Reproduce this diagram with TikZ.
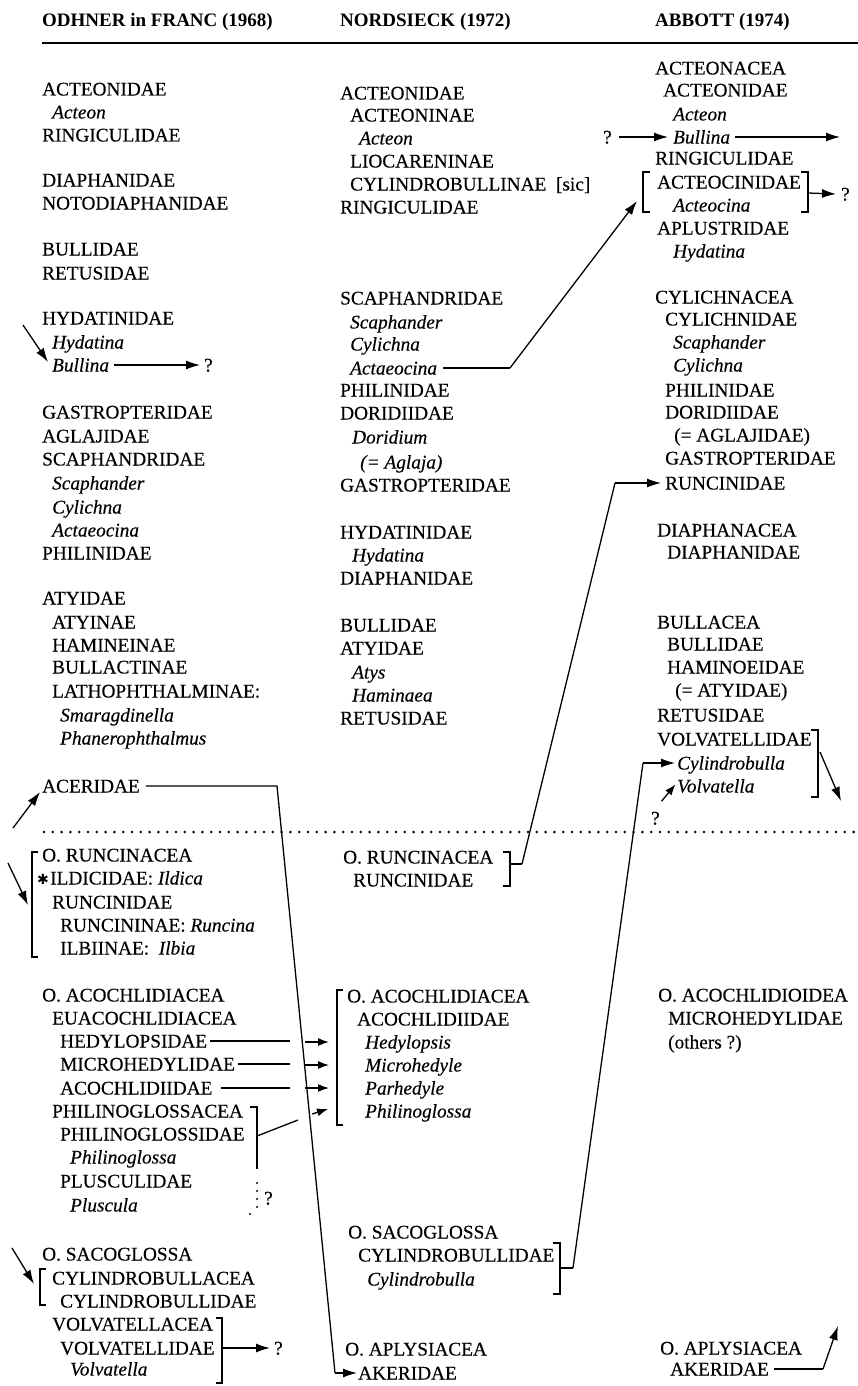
\documentclass[tikz,border=0pt]{standalone}
\usepackage{fontspec}
\setmainfont{Liberation Serif}[UprightFeatures={FakeBold=0.3},ItalicFeatures={FakeBold=0.3}]
\newfontfamily\symfont{DejaVu Sans}
\usetikzlibrary{arrows.meta}
\begin{document}
\begin{tikzpicture}[x=1pt,y=-1pt,
  every node/.style={inner sep=0pt, anchor=west, text height=13pt, text depth=0pt,
    font=\fontsize{19.3}{23}\selectfont},
  gen/.style={font=\fontsize{19.3}{23}\selectfont\itshape},
  head/.style={font=\fontsize{19}{22}\selectfont\bfseries},
  ln/.style={line width=1.3pt},
  brk/.style={line width=1.2pt},
  arr/.style={line width=1.3pt, -{Latex[length=14pt,width=9pt]}},
  sarr/.style={line width=1.3pt, -{Latex[length=11pt,width=8pt]}},
  dots/.style={line width=2.8pt, line cap=round, dash pattern=on 0pt off 8.8pt},
]
\useasboundingbox (0,0) rectangle (858,1386);

% ---------- headings and rules ----------
\node[head] (hL) at (42,20) {ODHNER in FRANC (1968)};
\node[head] (hM) at (340,20) {NORDSIECK (1972)};
\node[head] (hR) at (655,20) {ABBOTT (1974)};
\coordinate (ruleA) at (42,43);
\coordinate (ruleB) at (858,43);
\draw[line width=2.2pt] (ruleA) -- (ruleB);
\coordinate (dotA) at (44,832);
\coordinate (dotB) at (858,832);
\draw[dots] (dotA) -- (dotB);

% ---------- left column: Odhner ----------
\node (L1) at (42,89) {ACTEONIDAE};
\node[gen] (L2) at (52,112) {Acteon};
\node (L3) at (42,135) {RINGICULIDAE};
\node (L4) at (42,180) {DIAPHANIDAE};
\node (L5) at (42,203) {NOTODIAPHANIDAE};
\node (L6) at (42,249) {BULLIDAE};
\node (L7) at (42,273) {RETUSIDAE};
\node (L8) at (42,318) {HYDATINIDAE};
\node[gen] (L9) at (52,342) {Hydatina};
\node[gen] (L10) at (52,365) {Bullina};
\node (q1) at (204,365) {?};
\node (L11) at (42,412) {GASTROPTERIDAE};
\node (L12) at (42,436) {AGLAJIDAE};
\node (L13) at (42,459) {SCAPHANDRIDAE};
\node[gen] (L14) at (52,483) {Scaphander};
\node[gen] (L15) at (52,507) {Cylichna};
\node[gen] (L16) at (52,530) {Actaeocina};
\node (L17) at (42,553) {PHILINIDAE};
\node (L18) at (42,598) {ATYIDAE};
\node (L19) at (52,622) {ATYINAE};
\node (L20) at (52,645) {HAMINEINAE};
\node (L21) at (52,667) {BULLACTINAE};
\node (L22) at (52,691) {LATHOPHTHALMINAE:};
\node[gen] (L23) at (60,715) {Smaragdinella};
\node[gen] (L24) at (60,738) {Phanerophthalmus};
\node (L25) at (42,786) {ACERIDAE};
\node (L26) at (42,855) {O. RUNCINACEA};
\node[font=\symfont\fontsize{14}{15}\selectfont] (star) at (37,878) {✱};
\node (L27) at (50,878) {ILDICIDAE: \textit{Ildica}};
\node (L28) at (52,902) {RUNCINIDAE};
\node (L29) at (60,925) {RUNCININAE: \textit{Runcina}};
\node (L30) at (60,948) {ILBIINAE:\ \ \textit{Ilbia}};
\node (L31) at (42,995) {O. ACOCHLIDIACEA};
\node (L32) at (52,1018) {EUACOCHLIDIACEA};
\node (L33) at (60,1041) {HEDYLOPSIDAE};
\node (L34) at (60,1064) {MICROHEDYLIDAE};
\node (L35) at (60,1088) {ACOCHLIDIIDAE};
\node (L36) at (52,1111) {PHILINOGLOSSACEA};
\node (L37) at (60,1134) {PHILINOGLOSSIDAE};
\node[gen] (L38) at (70,1157) {Philinoglossa};
\node (L39) at (60,1181) {PLUSCULIDAE};
\node[gen] (L40) at (70,1205) {Pluscula};
\node (q5) at (264,1198) {?};
\node (L41) at (42,1254) {O. SACOGLOSSA};
\node (L42) at (52,1278) {CYLINDROBULLACEA};
\node (L43) at (60,1301) {CYLINDROBULLIDAE};
\node (L44) at (52,1324) {VOLVATELLACEA};
\node (L45) at (60,1348) {VOLVATELLIDAE};
\node[gen] (L46) at (70,1369) {Volvatella};
\node (q6) at (274,1348) {?};

% ---------- middle column: Nordsieck ----------
\node (M1) at (340,93) {ACTEONIDAE};
\node (M2) at (350,115) {ACTEONINAE};
\node[gen] (M3) at (359,138) {Acteon};
\node (M4) at (350,161) {LIOCARENINAE};
\node (M5) at (350,184) {CYLINDROBULLINAE\ \ [sic]};
\node (M6) at (340,207) {RINGICULIDAE};
\node (M7) at (340,298) {SCAPHANDRIDAE};
\node[gen] (M8) at (350,322) {Scaphander};
\node[gen] (M9) at (350,344) {Cylichna};
\node[gen] (M10) at (350,368) {Actaeocina};
\node (M11) at (340,390) {PHILINIDAE};
\node (M12) at (340,413) {DORIDIIDAE};
\node[gen] (M13) at (352,437) {Doridium};
\node[gen] (M14) at (360,462) {(= Aglaja)};
\node (M15) at (340,485) {GASTROPTERIDAE};
\node (M16) at (340,532) {HYDATINIDAE};
\node[gen] (M17) at (352,555) {Hydatina};
\node (M18) at (340,578) {DIAPHANIDAE};
\node (M19) at (340,625) {BULLIDAE};
\node (M20) at (340,648) {ATYIDAE};
\node[gen] (M21) at (352,672) {Atys};
\node[gen] (M22) at (352,695) {Haminaea};
\node (M23) at (340,718) {RETUSIDAE};
\node (M24) at (343,857) {O. RUNCINACEA};
\node (M25) at (353,880) {RUNCINIDAE};
\node (M26) at (347,996) {O. ACOCHLIDIACEA};
\node (M27) at (357,1019) {ACOCHLIDIIDAE};
\node[gen] (M28) at (365,1042) {Hedylopsis};
\node[gen] (M29) at (365,1065) {Microhedyle};
\node[gen] (M30) at (365,1088) {Parhedyle};
\node[gen] (M31) at (365,1111) {Philinoglossa};
\node (M32) at (348,1232) {O. SACOGLOSSA};
\node (M33) at (358,1255) {CYLINDROBULLIDAE};
\node[gen] (M34) at (367,1279) {Cylindrobulla};
\node (M35) at (345,1349) {O. APLYSIACEA};
\node (M36) at (358,1373) {AKERIDAE};

% ---------- right column: Abbott ----------
\node (R1) at (655,68) {ACTEONACEA};
\node (R2) at (663,90) {ACTEONIDAE};
\node[gen] (R3) at (673,114) {Acteon};
\node[gen] (R4) at (673,137) {Bullina};
\node (q2) at (603,137) {?};
\node (R5) at (655,158) {RINGICULIDAE};
\node (R6) at (657,182) {ACTEOCINIDAE};
\node[gen] (R7) at (673,205) {Acteocina};
\node (q3) at (841,194) {?};
\node (R8) at (657,228) {APLUSTRIDAE};
\node[gen] (R9) at (673,251) {Hydatina};
\node (R10) at (655,297) {CYLICHNACEA};
\node (R11) at (665,319) {CYLICHNIDAE};
\node[gen] (R12) at (673,342) {Scaphander};
\node[gen] (R13) at (673,365) {Cylichna};
\node (R14) at (665,390) {PHILINIDAE};
\node (R15) at (665,412) {DORIDIIDAE};
\node (R16) at (674,435) {(= AGLAJIDAE)};
\node (R17) at (665,458) {GASTROPTERIDAE};
\node (R18) at (665,483) {RUNCINIDAE};
\node (R19) at (657,530) {DIAPHANACEA};
\node (R20) at (667,552) {DIAPHANIDAE};
\node (R21) at (657,622) {BULLACEA};
\node (R22) at (667,644) {BULLIDAE};
\node (R23) at (667,667) {HAMINOEIDAE};
\node (R24) at (675,690) {(= ATYIDAE)};
\node (R25) at (657,715) {RETUSIDAE};
\node (R26) at (657,739) {VOLVATELLIDAE};
\node[gen] (R27) at (677,763) {Cylindrobulla};
\node[gen] (R28) at (677,786) {Volvatella};
\node (q4) at (651,818) {?};
\node (R29) at (658,995) {O. ACOCHLIDIOIDEA};
\node (R30) at (668,1018) {MICROHEDYLIDAE};
\node (R31) at (668,1042) {(others ?)};
\node (R32) at (660,1348) {O. APLYSIACEA};
\node (R33) at (670,1369) {AKERIDAE};

% ---------- free ends and corners ----------
\coordinate (inBul) at (23,325);
\coordinate (inAce) at (13,828);
\coordinate (inRun) at (8,863);
\coordinate (tipRun) at (28,905);
\coordinate (inCyl) at (12,1248);
\coordinate (tipCyl) at (34,1284);
\coordinate (aceA) at (277,786);
\coordinate (aceB) at (335,1373);
\coordinate (h1) at (290,1041);
\coordinate (h2) at (290,1064);
\coordinate (h3) at (290,1088);
\coordinate (k1) at (305,1042);
\coordinate (k2) at (305,1065);
\coordinate (k3) at (305,1088);
\coordinate (pgA) at (257,1136);
\coordinate (pgB) at (298,1120);
\coordinate (pgC) at (312,1114);
\coordinate (pgD) at (328,1109);
\coordinate (actA) at (510,368);
\coordinate (actB) at (637,201);
\coordinate (runA) at (522,864);
\coordinate (runB) at (615,483);
\coordinate (cylA) at (573,1268);
\coordinate (cylB) at (643,763);
\coordinate (bulOut) at (840,137);
\coordinate (volA) at (820,752);
\coordinate (volB) at (841,801);
\coordinate (akA) at (823,1369);
\coordinate (akB) at (838,1326);

% ---------- brackets ----------
\draw[brk] (38,852) -- (32,852) -- (32,957) -- (38,957);
\draw[brk] (250,1107) -- (257,1107) -- (257,1169);
\draw[dots, line width=2.4pt, dash pattern=on 0pt off 8pt] (257,1183) -- (257,1214);
\fill (250,1214) circle (1.2pt);
\draw[brk] (46,1269) -- (40,1269) -- (40,1305) -- (46,1305);
\draw[brk] (216,1318) -- (222,1318) -- (222,1383) -- (216,1383);
\draw[brk] (503,852) -- (510,852) -- (510,886) -- (503,886);
\draw[brk] (510,864) -- (runA);
\draw[brk] (343,990) -- (337,990) -- (337,1125) -- (343,1125);
\draw[brk] (553,1243) -- (560,1243) -- (560,1294) -- (553,1294);
\draw[brk] (560,1268) -- (cylA);
\draw[brk] (650,172) -- (643,172) -- (643,212) -- (650,212);
\draw[brk] (801,172) -- (808,172) -- (808,212) -- (801,212);
\draw[brk] (811,730) -- (818,730) -- (818,797) -- (811,797);

% ---------- connectors ----------
\draw[arr] (inBul) -- ([shift={(-4,-3)}]L10.west);
\draw[arr] ([xshift=5pt]L10.east) -- ([xshift=-4pt]q1.west);
\draw[arr] (inAce) -- ([shift={(-2,6)}]L25.west);
\draw[arr] (inRun) -- (tipRun);
\draw[arr] (inCyl) -- (tipCyl);
\draw[ln] ([xshift=6pt]L25.east) -- (aceA) -- (aceB);
\draw[arr] (aceB) -- ([xshift=-1pt]M36.west);
\draw[ln] ([xshift=3pt]L33.east) -- (h1);
\draw[ln] ([xshift=3pt]L34.east) -- (h2);
\draw[ln] ([xshift=8pt]L35.east) -- (h3);
\draw[sarr] (k1) -- ([xshift=-36pt]M28.west);
\draw[sarr] (k2) -- ([xshift=-36pt]M29.west);
\draw[sarr] (k3) -- ([xshift=-36pt]M30.west);
\draw[ln] (pgA) -- (pgB);
\draw[sarr] (pgC) -- (pgD);
\draw[arr] (222,1348) -- ([xshift=-4pt]q6.west);
\draw[ln] ([xshift=6pt]M10.east) -- (actA);
\draw[arr] (actA) -- (actB);
\draw[ln] (runA) -- (runB);
\draw[arr] (runB) -- ([xshift=-4pt]R18.west);
\draw[ln] (cylA) -- (cylB);
\draw[arr] (cylB) -- ([xshift=-2pt]R27.west);
\draw[arr] ([xshift=7pt]q2.east) -- ([xshift=-5pt]R4.west);
\draw[arr] ([xshift=5pt]R4.east) -- (bulOut);
\draw[arr] (808,193) -- ([xshift=-5pt]q3.west);
\draw[arr] (volA) -- (volB);
\draw[sarr] ([shift={(6,-10)}]q4.north) -- ([shift={(20,-27)}]q4.north);
\draw[ln] ([xshift=5pt]R33.east) -- (akA);
\draw[arr] (akA) -- (akB);
\end{tikzpicture}
\end{document}
